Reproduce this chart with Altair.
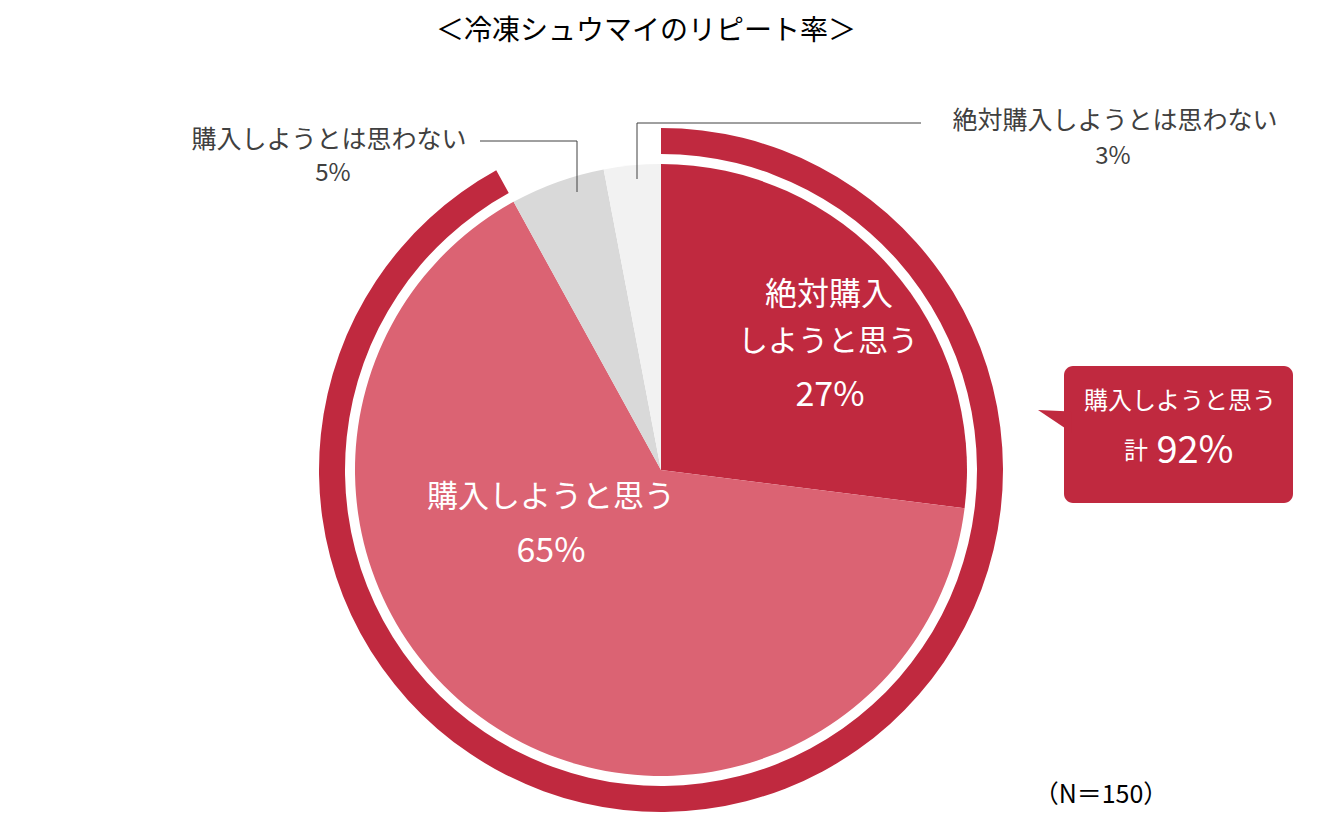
import altair as alt
import pandas as pd

# ---- data ----
categories = ["絶対購入しようと思う", "購入しようと思う", "購入しようとは思わない", "絶対購入しようとは思わない"]
shares = [27, 65, 5, 3]
slice_colors = ["#C0293F", "#DB6373", "#D9D9D9", "#F2F2F2"]

ring_labels = ["購入しようと思う 計"]
ring_values = [92]

title_text = "＜冷凍シュウマイのリピート率＞"
note_text = "（N＝150）"
inner1_lines = ["絶対購入", "しようと思う", "27%"]
inner2_lines = ["購入しようと思う", "65%"]
out_left_lines = ["購入しようとは思わない", "5%"]
out_right_lines = ["絶対購入しようとは思わない", "3%"]
callout_lines = ["購入しようと思う", "計", "92%"]

FONT = "Noto Sans CJK JP"
RED = "#C0293F"
GREY_TXT = "#404040"
OFF = 8  # page margin

def px(v):
    return alt.value(v - OFF)

pie_df = pd.DataFrame({"cat": categories, "value": shares, "idx": list(range(len(shares)))})
ring_df = pd.DataFrame({"cat": ring_labels, "value": ring_values})
one = pd.DataFrame({"d": [0]})

CX, CY = 661, 470

pie = alt.Chart(pie_df).mark_arc(outerRadius=306, innerRadius=0).encode(
    theta=alt.Theta("value:Q", stack=True, scale=alt.Scale(domain=[0, 100])),
    color=alt.Color("cat:N", scale=alt.Scale(domain=categories, range=slice_colors), legend=None),
    order=alt.Order("idx:Q"),
    x=px(CX), y=px(CY),
)

ring = alt.Chart(ring_df).mark_arc(outerRadius=342, innerRadius=316, color=RED).encode(
    theta=alt.Theta("value:Q", stack=True, scale=alt.Scale(domain=[0, 100])),
    x=px(CX), y=px(CY),
)

def text(s, x, y, size, color, align="center"):
    return alt.Chart(pd.DataFrame({"t": [s]})).mark_text(
        font=FONT, fontSize=size, color=color, align=align, baseline="middle"
    ).encode(text="t:N", x=px(x), y=px(y))

def rule(x1, y1, x2, y2):
    return alt.Chart(one).mark_rule(color=GREY_TXT, strokeWidth=1).encode(
        x=px(x1), x2=px(x2), y=px(y1), y2=px(y2)
    )

box = alt.Chart(one).mark_rect(color=RED, cornerRadius=9).encode(
    x=px(1064), x2=px(1293), y=px(366), y2=px(503)
)
pointer = alt.Chart(one).mark_point(
    shape="M 0 0 L 1.2 0.05 L 1.2 0.8 Z", filled=True, size=3136, color=RED, opacity=1, strokeWidth=0
).encode(x=px(1038), y=px(410))

layers = [
    ring, pie,
    text(title_text, 646, 32, 28, "#000000"),
    text(inner1_lines[0], 829, 295, 32, "white"),
    text(inner1_lines[1], 828, 342, 30, "white"),
    text(inner1_lines[2], 830, 396, 34, "white"),
    text(inner2_lines[0], 551, 498, 31, "white"),
    text(inner2_lines[1], 551, 552, 34, "white"),
    text(out_left_lines[0], 329, 140, 25, GREY_TXT),
    text(out_left_lines[1], 333, 174, 24, GREY_TXT),
    text(out_right_lines[0], 1115, 121, 25, GREY_TXT),
    text(out_right_lines[1], 1113, 157, 24, GREY_TXT),
    rule(480, 141, 577, 141),
    rule(577, 141, 577, 192),
    rule(637, 123, 637, 179),
    rule(637, 123, 921, 123),
    box, pointer,
    text(callout_lines[0], 1180, 402, 24, "white"),
    text(callout_lines[1], 1136, 452, 24, "white"),
    text(callout_lines[2], 1195, 452, 38, "white"),
    text(note_text, 1101, 795, 25, "#000000"),
]

chart = alt.layer(*layers).resolve_scale(theta="independent").properties(
    width=1326, height=812, autosize="none", padding=0, background="white"
).configure_view(stroke=None)

chart.save("out.html", embed_options={"renderer": "svg", "actions": False})
